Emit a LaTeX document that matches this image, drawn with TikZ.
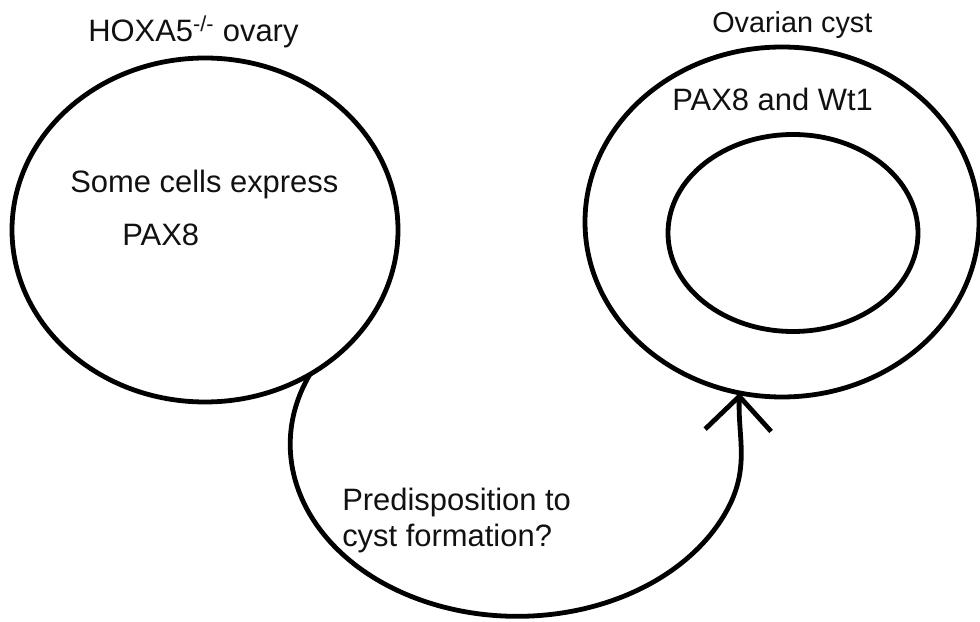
\documentclass[tikz,border=0pt]{standalone}
\usepackage{fontspec}
\setmainfont{Liberation Sans}
\usetikzlibrary{arrows.meta, positioning, shapes.geometric}
\definecolor{cystInk}{HTML}{111111}

\begin{document}
\begin{tikzpicture}[
    outline/.style={ellipse, draw=black, line width=0.12cm, inner sep=0pt, outer sep=0pt},
    caption/.style={font=\fontsize{22}{25.6}\selectfont, text=cystInk, inner sep=0pt, anchor=base west},
    smallcaption/.style={caption, font=\fontsize{20.5}{24}\selectfont},
    link/.style={line width=0.12cm, draw=black, -{Straight Barb[length=0.85cm, width=1.65cm]}}
]
    \useasboundingbox (0,0) rectangle (24.5,15.525);

    \node[outline, minimum width=9.65cm, minimum height=8.6cm] (ovary) at (5.125,9.775) {};
    \node[outline, minimum width=9.85cm, minimum height=8.75cm] (cyst) at (19.55,9.975) {};
    \node[outline, minimum width=6.25cm, minimum height=4.925cm] (lumen) at (19.825,9.7) {};

    \node[caption] (ovaryTitle) at (2.2,14.475) {HOXA5\textsuperscript{-/-} ovary};
    \node[caption] (someCells) at (1.75,10.7) {Some cells express};
    \node[caption] (ovaryPax) at (3.05,9.375) {PAX8};
    \node[smallcaption] (cystTitle) at (17.8,14.7) {Ovarian cyst};
    \node[caption] (cystMarkers) at (16.8,12.75) {PAX8 and Wt1};
    \node[caption, anchor=north west, align=left] (question) at (8.55,3.34) {Predisposition to\\cyst formation?};

    \draw[link] (ovary.306) arc[start angle=156, end angle=340, x radius=5.675cm, y radius=4.3cm] to[out=65, in=-92] (cyst.256);
\end{tikzpicture}
\end{document}
